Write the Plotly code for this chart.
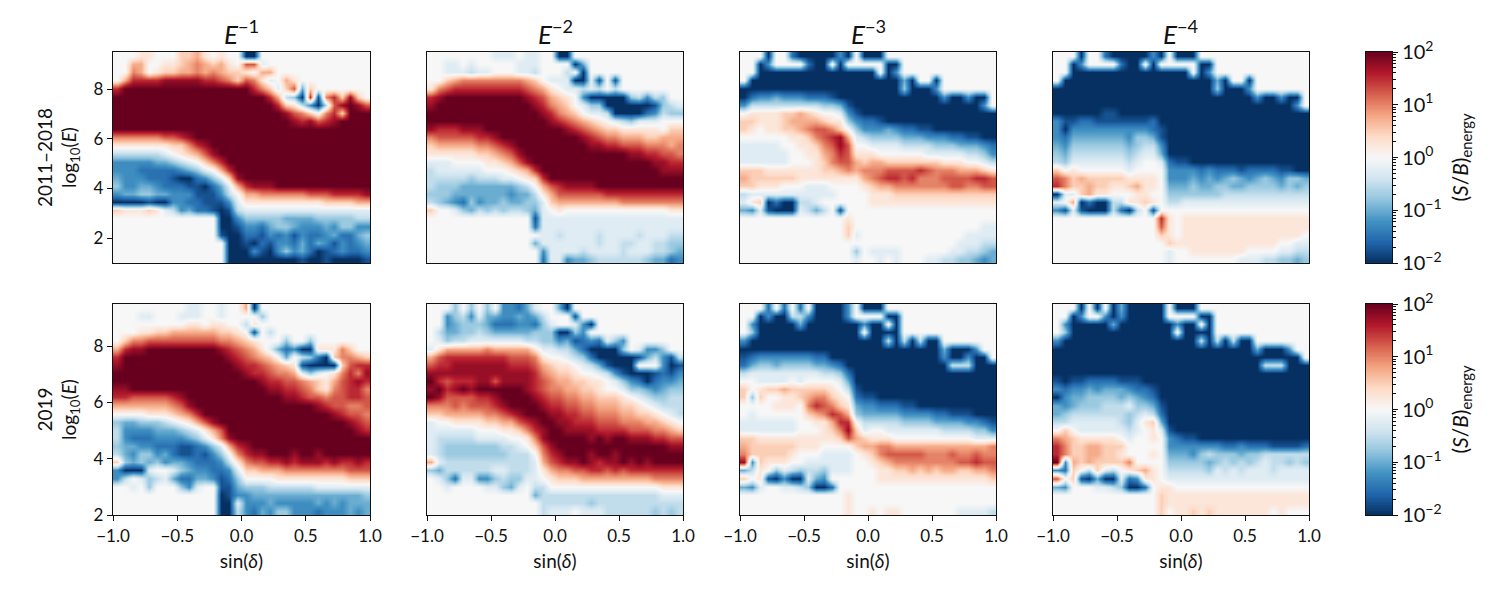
import numpy as np
import plotly.graph_objects as go

# Each row (top to bottom, 32 cells) holds colour levels:
# one base-17 digit per cell, log10(S/B) = -2 + 0.25 * digit. "8" is S/B = 1 or an empty bin.
e1_2011 = [
"88899888aab98988" "0088888888888888",
"88bb8899abcbab98" "dd78888888888888",
"88cb89aabbcbcbaa" "98bb888888888888",
"8beeeefffffeedca" "dc978b9888888888",
"eggggggggggggggg" "geca7ad4a8888888",
"gggggggggggggggg" "gggeb650e1ceafa8",
"gggggggggggggggg" "ggggea96306dfgfd",
"gggggggggggggggg" "gggggfdca8ceaggg",
"gggggggggggggggg" "ggggggfefdefgggg",
"gggggggggggggggg" "gggggggggggggggg",
"ccccccddefgggggg" "gggggggggggggggg",
"9999999aacefgggg" "gggggggggggggggg",
"666666789abdfggg" "gggggggggggggggg",
"33333445678acegg" "gggggggggggggggg",
"3332222234578beg" "gggggggggggggggg",
"43332221002357af" "gggggggggggggggg",
"533443222110247b" "efffgggggggggggg",
"3445544333111368" "bbccccccdddeeeef",
"0000100332211137" "9999999999aaaabb",
"a999a97634221016" "7777777777777777",
"8888888888888003" "5555544445555566",
"8888888888888001" "3324554333435533",
"8888888888888100" "2213231322342245",
"8888888888888800" "1021332424313234",
"8888888888888800" "0310353420123223",
"8888888888888800" "0000000100100001",
]
e2_2011 = [
"8888888877787788" "0088888888888888",
"8877878888877788" "8804888888888888",
"8877767788877688" "8680888888888888",
"88abccccccccba87" "7700718188888888",
"9cdeeeeeeeeedcb9" "8776768688888888",
"efggggggggggfedb" "a983000005636588",
"fggggggggggggfec" "ba87550000001567",
"ggggggggggggggfe" "cba8776000023655",
"gggggggggggggggf" "edcba98765777888",
"feeefffggggggggg" "gfedcbaa999998aa",
"cdddddeefggggggg" "gggfedccbbbaabbb",
"abbbbbccdefggggg" "ggggffeedddcccbc",
"999999aabcdfgggg" "gggggggggffeeddc",
"777888899abdfggg" "ggggggggggggffee",
"67777778889abegg" "gggggggggggggfff",
"6666656667789aeg" "gggggggggggggggg",
"65554444444568bd" "effffggggggggggg",
"555444444434469b" "ddddddeeeeeeeeee",
"654325344544557a" "bbbbbbbbcccccccc",
"a887546565665478" "9888888888888899",
"8888888888888177" "7777777777777777",
"8888888888888277" "7777777777777777",
"8888888888888877" "6777767777677766",
"8888888888888477" "7777767766776655",
"8888888888888837" "7776777767776654",
"8888888888888827" "7344566666654423",
]
e3_2011 = [
"8880882000003080" "0088888888888888",
"8803888820080888" "8800888888888888",
"8800000000000000" "0803888888888888",
"8000000000000000" "0000408808888888",
"0000000000000000" "0000500038888888",
"0233433322210000" "0000000003003008",
"3666666666554100" "0000000000000038",
"89999aaba9887310" "0000000000000000",
"aa999abbbba99532" "2100000000000000",
"a9899aabcddca853" "3343221100000000",
"88888899acdefb76" "5555444333221100",
"777778899acdfd88" "7777666655544432",
"7777778899bced99" "9888888777776653",
"7777778889acddba" "bbaaaaaaa9998876",
"aaa9999999aabcbc" "ccddddedcccbbba9",
"baaaaaa99999999b" "cdeedecccddddeed",
"aa99988877788889" "abbcccccccddccdd",
"6777777777778888" "999aaaaaaaaaaaaa",
"79a0200667888888" "9999999999999999",
"4371000764681888" "8888888888888888",
"8888888888888988" "8888888888888888",
"8888888888888a88" "8888888888888877",
"8888888888888a78" "8888888888887777",
"8888888888888888" "8888888888877766",
"8888888888888858" "7777888888776654",
"8888888888888878" "8787888776655434",
]
e4_2011 = [
"8880882000003080" "0088888888888888",
"8803888820080888" "8800888888888888",
"8800000000000000" "0803888888888888",
"8000000000000000" "0000408808888888",
"0000000000000000" "0000500038888888",
"0000000000000000" "0000000003003008",
"0000000000000000" "0000000000000038",
"0000001100000000" "0000000000000000",
"3112211111112000" "0000000000000000",
"3033333333332100" "0000000000000000",
"3244444443554100" "0000000000000000",
"4355555554566300" "0000000000000000",
"5466666665677400" "0000000000000000",
"6577777776788721" "1000000000000000",
"a898888887888833" "3323222122221100",
"dcabaaaaa9999833" "3434345434543554",
"ecaabaa99ab99844" "4544554455554545",
"077ab99888998855" "5555566666666666",
"78b02006699a9866" "7777777777777777",
"3171000620681888" "8888888888888888",
"8888888888888e98" "9999999999999999",
"8888888888888d98" "9999999999999999",
"8888888888888a98" "9999999999999998",
"88888888888888a9" "9999999999998877",
"8888888888888878" "8999999988887766",
"8888888888888878" "8888888777665545",
]
e1_2019 = [
"8888888887788788" "b088888888888888",
"8887788877788788" "8858888888888888",
"8888888889989988" "6988888888888888",
"88899aabbbbbbaa9" "8186888888888888",
"8accdddddddddccb" "a988858858888888",
"beffgggggggggfed" "cb9742300999ca88",
"egggggggggggggfe" "dcba8486520accba",
"fggggggggggggggf" "eedcba910000adee",
"gggggggggggggggg" "feedccb75789cecf",
"gggggggggggggggg" "ggfeeddcba9bdefe",
"ffgggggggggggggg" "gggffeedca9cdeec",
"eedddddefggggggg" "gggggffeddcddeed",
"bbbbbbbcdfgggggg" "gggggggggfeddccd",
"8888999abceggggg" "gggggggggggfeddc",
"5445556789bdfggg" "gggggggggggggfed",
"633334445679bdgg" "ggggggggggggggfe",
"6322233334579cfg" "gggggggggggggggg",
"54433222112357be" "fggggggggggggggg",
"643553421121358c" "effgggfggfgggggg",
"a545453443222369" "cddeefefffefeefe",
"3000788754332237" "aabbbccccccccddd",
"3687567422443125" "8888999999999aaa",
"8878588853788114" "5556666667777777",
"8888888888888013" "3444444444444445",
"8888888888888007" "3334333334343444",
"8888888888888006" "3243553332333434",
]
e2_2019 = [
"8885858583324788" "4088888888888888",
"8835637443343468" "8818888888888888",
"8834555422233257" "8873088888888888",
"8644556544444555" "0053888888888888",
"8756677777776655" "3412327538888888",
"79bbbbbcbbbbb977" "6642000058733588",
"bdeeeeeeeedddc98" "8765200000146316",
"deefffffffeeedba" "9987641000888301",
"fffffffffffffecb" "aa98876310001213",
"gedeeeffdffffedc" "bbaa998753202334",
"fgefgfggggggfedc" "cbbaa98875543455",
"gfddddeefggggfed" "dccbbaaa98765566",
"cccdcdddefggggfe" "eddccbbbaa987666",
"aabbbbbccdefgggf" "feeddcccbbaa9876",
"7889999aabbdefgg" "ffeeedddcccbba98",
"77777788899acefg" "gffffeeeedddccba",
"7666667777889cfg" "ggggfgfggfffeedd",
"7655555556678adf" "ggggggggggggggff",
"76555555556668ce" "fgggfggfgggggggg",
"b7666666666667bd" "effgfeffgfgfgggg",
"546666667766679b" "ccddeededeeeeeee",
"8752773356557789" "aaabbbbbbbbbcccc",
"8878888775478668" "8888888888888999",
"8888888888888466" "6666666666666777",
"8888888888888866" "6666566666666666",
"8888888888888867" "7787776666665656",
]
e3_2019 = [
"8882828280000380" "0088888888888888",
"8803006630000388" "8800888888888888",
"8300000400000003" "0080888888888888",
"8500000000000008" "0000888888888888",
"3000000000000000" "0060606008888888",
"0000000000000000" "0000000004000388",
"1233333332200000" "0000000003003008",
"2455455554432000" "0000000000666000",
"6777777777665200" "0000000000000000",
"8877778788887400" "0000000000000000",
"a89aabaaaaa98610" "0000000000000000",
"a5a8899abcca9821" "1000000000000000",
"88889998cedca943" "3222110000000000",
"87888888abcedb54" "4444333322111000",
"77777778899bee86" "6666555544443321",
"77777778889acfa7" "8877777776666553",
"aa9999999999adba" "9998888888888777",
"baaaaaa9998888ab" "bccbbbbbbbbbbbbc",
"caaaaa9888777789" "acdddddcccdccdcc",
"f3a9998877777788" "9abccccccccddedd",
"4698576566577788" "899aabababbaabbc",
"a891030074388888" "899999999999999a",
"4378877650028888" "8888888888888888",
"8888888888888988" "8888888888888888",
"8888888888888988" "8888888888888888",
"8888888888888988" "9899888888877776",
]
e4_2019 = [
"8880808040000080" "0088888888888888",
"8803883030000088" "8800888888888888",
"8300000400000003" "0080888888888888",
"8500000000000008" "0000888888888888",
"3000000000000000" "0060606008888888",
"0000000000000000" "0000000004000388",
"0000000000000000" "0000000000000008",
"0000000000000000" "0000000000666000",
"0000000000000000" "0000000000000000",
"1011222211100000" "0000000000000000",
"3233434443221000" "0000000000000000",
"0344555545432000" "0000000000000000",
"4345556667554100" "0000000000000000",
"4566666665676200" "0000000000000000",
"667777776579a400" "0000000000000000",
"8a87777776789710" "0000000000000000",
"cba9999987889832" "1100000000000000",
"ecaabbaaa8888833" "3333322322211112",
"ecaabbaa98889844" "4356555455666666",
"g3babaaaac888855" "5554565656766565",
"32a86a7689ab9866" "6665767677767777",
"d8a1040072399877" "7777777777777777",
"4388877650028998" "8888888888888888",
"8888888888888a99" "9999999999999999",
"8888888888888a99" "9999999999999999",
"8888888888888a89" "9a9a999999989888",
]

panels_top = [e1_2011, e2_2011, e3_2011, e4_2011]
panels_bottom = [e1_2019, e2_2019, e3_2019, e4_2019]
titles = ["<i>E</i><sup>−1</sup>", "<i>E</i><sup>−2</sup>", "<i>E</i><sup>−3</sup>", "<i>E</i><sup>−4</sup>"]
row_labels = ["2011–2018", "2019"]
x_ticks = [-1.0, -0.5, 0.0, 0.5, 1.0]
x_labels = ["−1.0", "−0.5", "0.0", "0.5", "1.0"]
y_ticks = [2, 4, 6, 8]
cb_ticks = [-2, -1, 0, 1, 2]
cb_labels = ["10<sup>−2</sup>", "10<sup>−1</sup>", "10<sup>0</sup>", "10<sup>1</sup>", "10<sup>2</sup>"]
y_ranges = [(1.0, 9.5), (2.0, 9.5)]

FONT = "Lato"
INK = "#111111"
TICK = 17
LABEL = 19
W, H = 1500, 600
col_px = [(113, 370), (427, 683), (740, 996), (1053, 1309)]
row_px = [(52, 263), (304, 515)]
cb_px = (1366, 1392)


def decode(rows):
    out = []
    for r in rows:
        r = r.ljust(32, r[-1])[:32]
        out.append([-2 + 0.25 * int(ch, 17) for ch in r])
    return out[::-1]


def dom_x(a, b):
    return [a / W, b / W]


def dom_y(a, b):
    return [1 - b / H, 1 - a / H]


fig = go.Figure()
layout = {}
n = 0
axis_common = dict(
    showgrid=False, zeroline=False, showline=True, mirror=True, automargin=False,
    linecolor=INK, linewidth=1.3, ticklen=5, tickwidth=1.2, tickcolor=INK,
    tickfont=dict(family=FONT, size=TICK, color=INK),
)
for i, panels in enumerate([panels_top, panels_bottom]):
    lo, hi = y_ranges[i]
    for j, rows in enumerate(panels):
        n += 1
        z = decode(rows)
        dx = 2.0 / 32
        dy = (hi - lo) / 26
        xa, ya = f"xaxis{n}", f"yaxis{n}"
        fig.add_trace(go.Heatmap(
            z=z, x0=-1 + dx / 2, dx=dx, y0=lo + dy / 2, dy=dy,
            colorscale="RdBu_r", zmin=-2, zmax=2, showscale=False, zsmooth="best",
            xaxis=f"x{n}", yaxis=f"y{n}",
        ))
        xdict = dict(axis_common, domain=dom_x(*col_px[j]), range=[-1, 1], anchor=f"y{n}")
        ydict = dict(axis_common, domain=dom_y(*row_px[i]), range=[lo, hi], anchor=f"x{n}")
        if i == 1:
            xdict.update(tickmode="array", tickvals=x_ticks, ticktext=x_labels, ticks="outside",
                         title=dict(text="sin(<i>δ</i>)", standoff=10,
                                    font=dict(family=FONT, size=LABEL, color=INK)))
        else:
            xdict.update(showticklabels=False, ticks="")
        if j == 0:
            ydict.update(tickmode="array", tickvals=y_ticks, ticks="outside",
                         title=dict(text=f"{row_labels[i]}<br>log<sub>10</sub>(<i>E</i>)", standoff=11,
                                    font=dict(family=FONT, size=LABEL, color=INK)))
        else:
            ydict.update(showticklabels=False, ticks="")
        layout[xa] = xdict
        layout[ya] = ydict

# colour bars
levels = np.linspace(-2, 2, 256)
minor_vals = [d + np.log10(m) for d in range(-2, 2) for m in range(2, 10)]
for i in range(2):
    n += 1
    fig.add_trace(go.Heatmap(
        z=[[v] for v in levels], x=[0], y=levels,
        colorscale="RdBu_r", zmin=-2, zmax=2, showscale=False,
        xaxis=f"x{n}", yaxis=f"y{n}",
    ))
    layout[f"xaxis{n}"] = dict(axis_common, domain=dom_x(*cb_px), showticklabels=False, ticks="",
                               anchor=f"y{n}", range=[-0.5, 0.5])
    layout[f"yaxis{n}"] = dict(
        axis_common, domain=dom_y(*row_px[i]), side="right", anchor=f"x{n}", range=[-2, 2],
        tickmode="array", tickvals=cb_ticks, ticktext=cb_labels, ticks="outside",
        tickfont=dict(family=FONT, size=20, color=INK),
        minor=dict(tickmode="array", tickvals=minor_vals, ticks="outside", ticklen=3,
                   tickwidth=1, tickcolor=INK),
        title=dict(text="(<i>S</i>/<i>B</i>)<sub>energy</sub>", standoff=12,
                   font=dict(family=FONT, size=21, color=INK)),
    )

annotations = [
    dict(text=titles[j], x=(col_px[j][0] + col_px[j][1]) / 2 / W, y=1 - 32 / H,
         xref="paper", yref="paper", showarrow=False, xanchor="center", yanchor="middle",
         font=dict(family=FONT, size=26, color=INK))
    for j in range(4)
]

fig.update_layout(
    width=W, height=H, margin=dict(l=0, r=0, t=0, b=0), showlegend=False,
    paper_bgcolor="white", plot_bgcolor="#f7f7f7",
    font=dict(family=FONT, size=TICK, color=INK),
    annotations=annotations, **layout,
)
fig.write_html("out.html", config={"displayModeBar": False},
               post_script="document.body.style.margin='0';document.documentElement.style.overflow='hidden';")
